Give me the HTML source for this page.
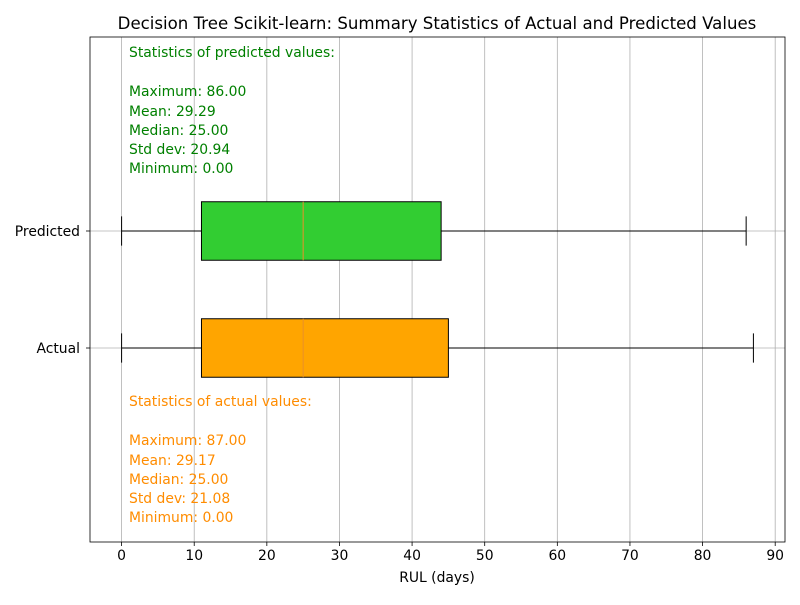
<!DOCTYPE html>
<html><head><meta charset="utf-8"><style>
body{margin:0;background:#fff}
svg{font-family:"DejaVu Sans","Liberation Sans",sans-serif}
</style></head><body>
<svg id="chart" width="800" height="600">
<rect width="800" height="600" fill="#fff"/>
<text x="437" y="29" text-anchor="middle" font-size="16.6">Decision Tree Scikit-learn: Summary Statistics of Actual and Predicted Values</text>
<g id="grid"></g><g id="marks"></g><g id="axes"></g>
<text x="437" y="582" text-anchor="middle" font-size="13.9">RUL (days)</text>
<g font-size="13.9" fill="#008000">
<text x="129" y="57">Statistics of predicted values:</text>
<text x="129" y="96">Maximum: 86.00</text>
<text x="129" y="116">Mean: 29.29</text>
<text x="129" y="135">Median: 25.00</text>
<text x="129" y="154">Std dev: 20.94</text>
<text x="129" y="173">Minimum: 0.00</text>
</g>
<g font-size="13.9" fill="#ff8c00">
<text x="129" y="406">Statistics of actual values:</text>
<text x="129" y="445">Maximum: 87.00</text>
<text x="129" y="465">Mean: 29.17</text>
<text x="129" y="484">Median: 25.00</text>
<text x="129" y="503">Std dev: 21.08</text>
<text x="129" y="522">Minimum: 0.00</text>
</g>
</svg>
<script>
const categories=["Actual","Predicted"];
const q1Values=[11,11];
const q3Values=[45,44];
const medianValues=[25,25];
const minValues=[0,0];
const maxValues=[87,86];
const xTicks=[0,10,20,30,40,50,60,70,80,90];
const boxColors=["#ffa500","#32cd32"];
const L=90,R=785,T=37,B=542;
const x=v=>L+(v+4.35)/95.7*(R-L);
const y=p=>B-(p+0.658)/4.316*(B-T);
const NS="http://www.w3.org/2000/svg";
function mk(g,tag,a){const e=document.createElementNS(NS,tag);for(const k in a)e.setAttribute(k,a[k]);document.getElementById(g).appendChild(e);return e;}
xTicks.forEach(t=>{
 const gl=mk("grid","line",{x1:x(t),x2:x(t),y1:T,y2:B,stroke:"#b0b0b0","stroke-width":0.8});
 
 
 mk("axes","line",{x1:x(t),x2:x(t),y1:B,y2:B+4,stroke:"#000","stroke-width":0.8});
 const tl=mk("axes","text",{x:x(t),y:B+18,"text-anchor":"middle","font-size":13.9});
 tl.textContent=t;
 
 
});
categories.forEach((c,i)=>{
 const p=i+1,yc=y(p),h=0.25*(y(0)-y(1));
 const gl=mk("grid","line",{x1:L,x2:R,y1:yc,y2:yc,stroke:"#b0b0b0","stroke-width":0.8});
 
 
 mk("axes","line",{x1:L-4,x2:L,y1:yc,y2:yc,stroke:"#000","stroke-width":0.8});
 const tl=mk("axes","text",{x:L-10,y:yc+5,"text-anchor":"end","font-size":13.9});
 tl.textContent=c;
 
 
 const w1=mk("marks","line",{x1:x(minValues[i]),x2:x(q1Values[i]),y1:yc,y2:yc,stroke:"#000"});
 
 
 const w2=mk("marks","line",{x1:x(q3Values[i]),x2:x(maxValues[i]),y1:yc,y2:yc,stroke:"#000"});
 
 
 [minValues[i],maxValues[i]].forEach(v=>{
  const cp=mk("marks","line",{x1:x(v),x2:x(v),y1:yc-h/2,y2:yc+h/2,stroke:"#000"});
  
  
 });
 const bx=mk("marks","rect",{x:x(q1Values[i]),y:yc-h,width:x(q3Values[i])-x(q1Values[i]),height:2*h,fill:boxColors[i],stroke:"#000"});
 
 
 const md=mk("marks","line",{x1:x(medianValues[i]),x2:x(medianValues[i]),y1:yc-h,y2:yc+h,stroke:"#e8902a","stroke-width":1});
 
 
});
const fr=mk("axes","rect",{x:L,y:T,width:R-L,height:B-T,fill:"none",stroke:"#000","stroke-width":0.8});


</script>
</body></html>
